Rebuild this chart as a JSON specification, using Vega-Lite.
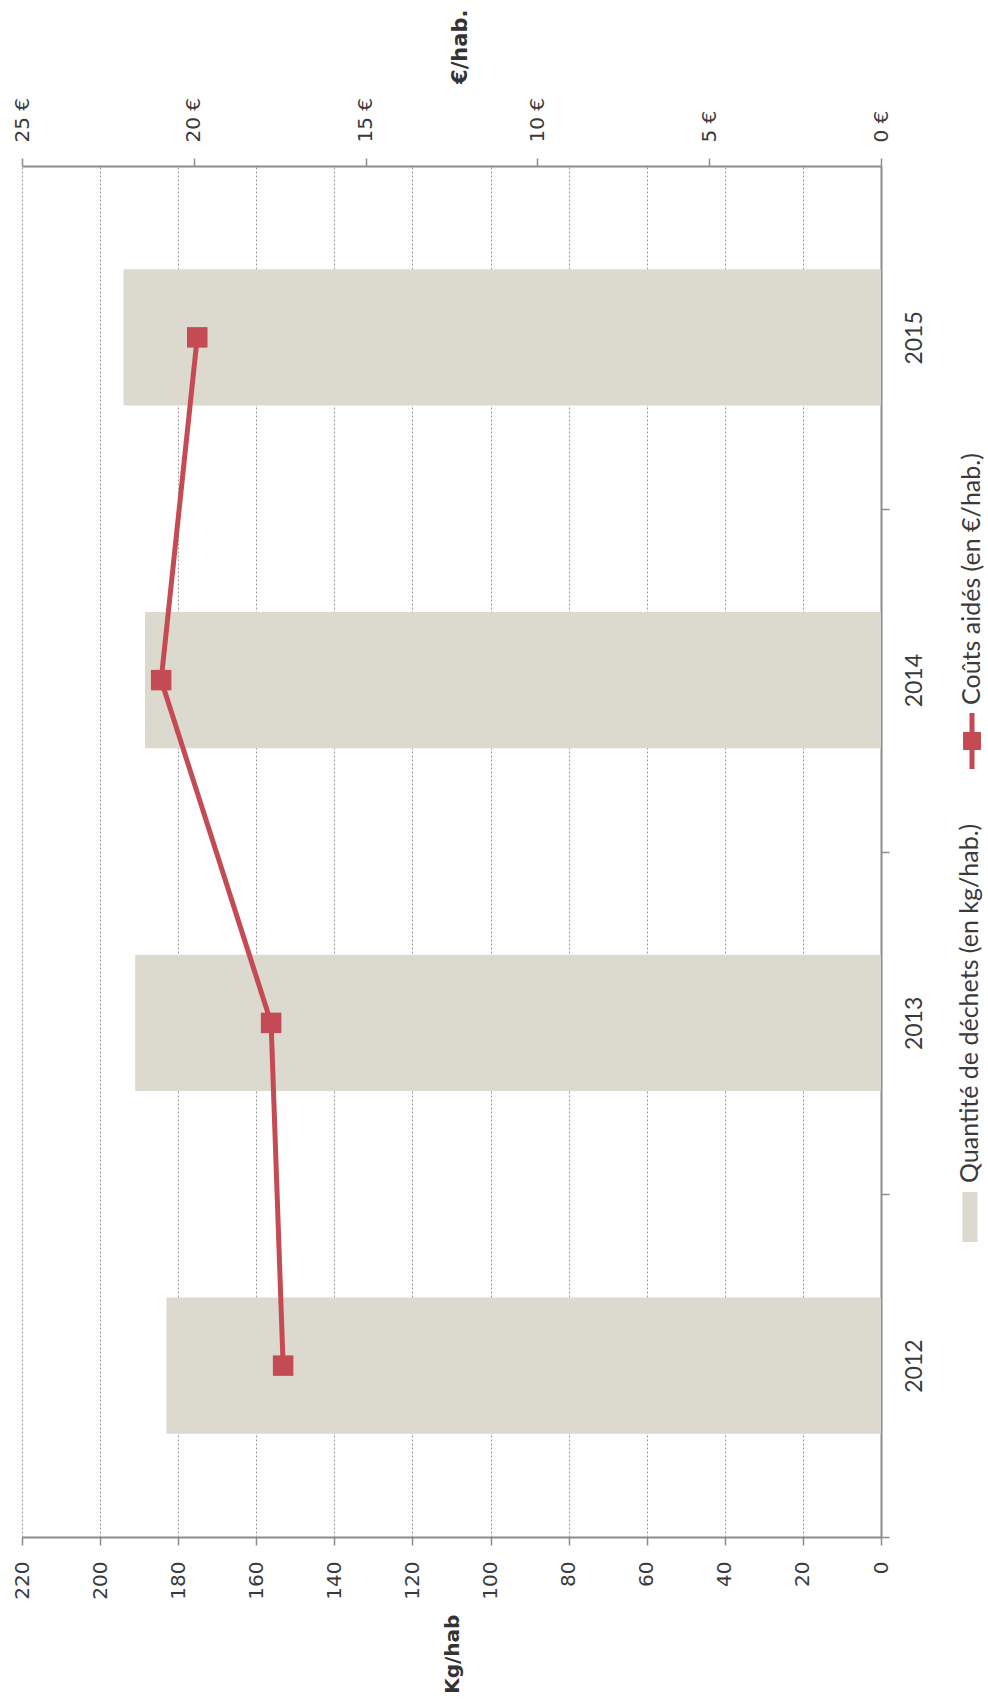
{
  "$schema": "https://vega.github.io/schema/vega-lite/v6.json",
  "width": 859,
  "height": 1371,
  "autosize": {"type": "none"},
  "padding": {"left": 22, "top": 166, "right": 107, "bottom": 164},
  "background": "white",
  "config": {
    "view": {"stroke": null},
    "axis": {
      "labelFont": "DejaVu Sans",
      "labelFontSize": 20,
      "labelColor": "#3a3a3a",
      "titleFont": "DejaVu Sans",
      "titleFontSize": 20,
      "titleFontWeight": "bold",
      "titleColor": "#333333",
      "domainColor": "#8c8c8c",
      "domainWidth": 2,
      "tickColor": "#8c8c8c",
      "tickWidth": 1.5,
      "tickSize": 8,
      "labelFlush": false,
      "labelOverlap": false
    }
  },
  "data": {
    "values": [
      {"year": "2012", "kg": 183, "euro": 17.4},
      {"year": "2013", "kg": 191, "euro": 17.75},
      {"year": "2014", "kg": 188.5, "euro": 20.95},
      {"year": "2015", "kg": 194, "euro": 19.9}
    ]
  },
  "layer": [
    {
      "mark": {"type": "bar"},
      "encoding": {
        "y": {
          "field": "year", "type": "nominal", "sort": "descending",
          "scale": {"paddingInner": 0.603, "paddingOuter": 0.3015},
          "axis": {
            "orient": "right", "title": null, "labelAngle": -90, "labelAlign": "center", "labelBaseline": "top",
            "labelPadding": 14, "labelFont": "Lato", "labelFontSize": 23,
            "tickOffset": 171.375, "labelOffset": -171.375, "grid": false
          }
        },
        "x": {
          "field": "kg", "type": "quantitative",
          "scale": {"domain": [0, 220], "reverse": true, "nice": false},
          "axis": {
            "orient": "bottom", "values": [0, 20, 40, 60, 80, 100, 120, 140, 160, 180, 200, 220],
            "labelAngle": -90, "labelAlign": "right", "labelBaseline": "middle", "labelPadding": 16,
            "grid": true, "gridDash": [2, 2], "gridColor": "#9a9a9a", "gridWidth": 1,
            "title": "Kg/hab", "titleAngle": -90, "titleAlign": "right", "titleBaseline": "middle",
            "titleX": 430, "titlePadding": 15
          }
        },
        "fill": {
          "datum": "Quantité de déchets (en kg/hab.)", "type": "nominal",
          "scale": {"domain": ["Quantité de déchets (en kg/hab.)"], "range": ["#dcd9ce"]},
          "legend": {
            "orient": "none", "legendX": 948, "legendY": 1051, "title": null,
            "labelFont": "Lato", "labelFontSize": 25, "labelColor": "#3a3a3a", "labelLimit": 900,
            "encode": {
              "symbols": {"update": {
                "x": {"value": 0}, "y": {"value": 0},
                "shape": {"value": "M-0.3,-1H0.3V1H-0.3Z"},
                "size": {"value": 2500},
                "fill": {"value": "#dcd9ce"},
                "stroke": {"value": "transparent"},
                "strokeWidth": {"value": 0},
                "opacity": {"value": 1}
              }},
              "labels": {"update": {
                "x": {"value": 0}, "y": {"value": 0},
                "angle": {"value": -90}, "align": {"value": "left"}, "baseline": {"value": "middle"},
                "dx": {"value": 34}
              }}
            }
          }
        }
      }
    },
    {
      "layer": [
        {
          "mark": {"type": "line", "strokeWidth": 5},
          "encoding": {
            "y": {"field": "year", "type": "nominal", "sort": "descending"},
            "x": {
              "field": "euro", "type": "quantitative",
              "scale": {"domain": [0, 25], "reverse": true, "nice": false},
              "axis": {
                "orient": "top", "values": [0, 5, 10, 15, 20, 25], "labelExpr": "datum.value + ' €'",
                "labelAngle": -90, "labelAlign": "left", "labelBaseline": "middle", "labelPadding": 16,
                "grid": false,
                "title": "€/hab.", "titleFontSize": 21, "titleAngle": -90, "titleAlign": "left", "titleBaseline": "middle",
                "titleX": 438, "titlePadding": 14
              }
            },
            "color": {
              "datum": "Coûts aidés (en €/hab.)", "type": "nominal",
              "scale": {"domain": ["Coûts aidés (en €/hab.)"], "range": ["#c44b53"]},
              "legend": {
                "orient": "none", "legendX": 950, "legendY": 575, "title": null,
                "labelFont": "Lato", "labelFontSize": 25, "labelColor": "#3a3a3a", "labelLimit": 900,
                "encode": {
                  "symbols": {"update": {
                    "x": {"value": 0}, "y": {"value": 0},
                    "shape": {"value": "M-0.09,-1H0.09V1H-0.09Z M-0.32,-0.32H0.32V0.32H-0.32Z"},
                    "size": {"value": 3136},
                    "fill": {"value": "#c44b53"},
                    "stroke": {"value": "transparent"},
                    "strokeWidth": {"value": 0},
                    "opacity": {"value": 1}
                  }},
                  "labels": {"update": {
                    "x": {"value": 0}, "y": {"value": 0},
                    "angle": {"value": -90}, "align": {"value": "left"}, "baseline": {"value": "middle"},
                    "dx": {"value": 36}
                  }}
                }
              }
            }
          }
        },
        {
          "mark": {"type": "square", "size": 420, "filled": true, "opacity": 1},
          "encoding": {
            "y": {"field": "year", "type": "nominal", "sort": "descending"},
            "x": {"field": "euro", "type": "quantitative"},
            "color": {"datum": "Coûts aidés (en €/hab.)", "type": "nominal"}
          }
        }
      ]
    }
  ],
  "resolve": {"scale": {"x": "independent"}}
}
